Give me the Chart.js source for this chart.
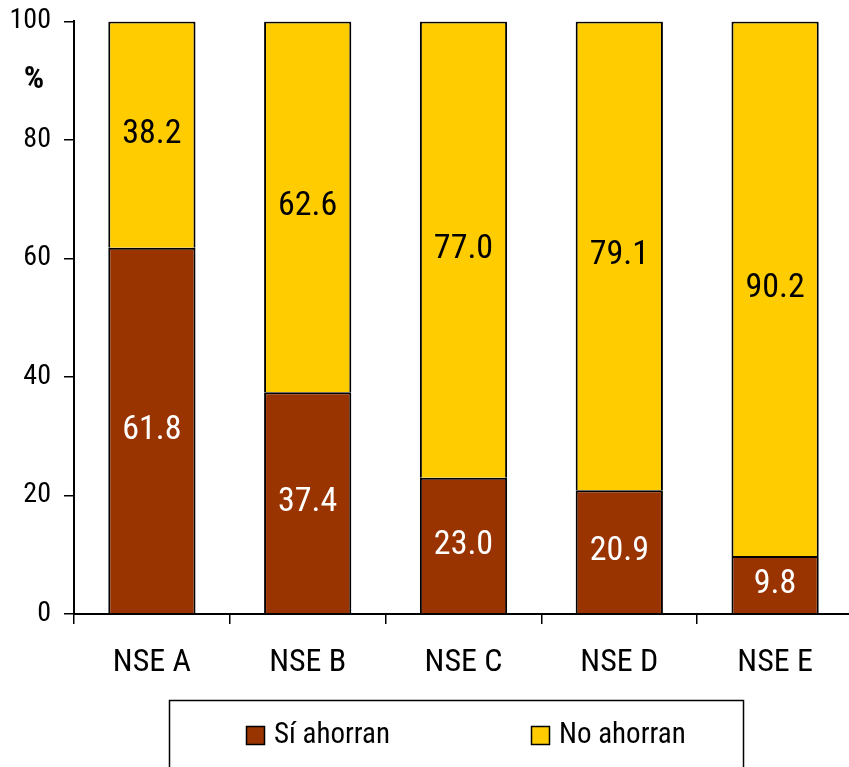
<!DOCTYPE html>
<html><head><meta charset="utf-8">
<script src="https://cdn.jsdelivr.net/npm/chart.js@4"></script>
<style>html,body{margin:0;padding:0;overflow:hidden;background:#fff}
#wrap{position:relative;width:853px;height:767px}</style></head>
<body><div id="wrap"><canvas id="c" width="853" height="767"></canvas></div>
<script>
const categories = ['NSE A', 'NSE B', 'NSE C', 'NSE D', 'NSE E'];
const siAhorran = [61.8, 37.4, 23.0, 20.9, 9.8];
const noAhorran = [38.2, 62.6, 77.0, 79.1, 90.2];
const seriesNames = ['Sí ahorran', 'No ahorran'];
const yTicks = [0, 20, 40, 60, 80, 100];
const yUnit = '%';

const FONT = "'Roboto Condensed', 'DejaVu Sans Condensed', sans-serif";
const BROWN = '#993300', YELLOW = '#FFCC00';
Chart.defaults.font.family = FONT;
Chart.defaults.color = '#000';

const extras = {
  id: 'extras',
  afterDatasetsDraw(chart) {
    const ctx = chart.ctx;
    ctx.save();
    ctx.font = '34px ' + FONT;
    ctx.textAlign = 'center';
    ctx.textBaseline = 'middle';
    chart.data.datasets.forEach((ds, i) => {
      const meta = chart.getDatasetMeta(i);
      meta.data.forEach((bar, j) => {
        const yc = (bar.y + bar.base) / 2;
        ctx.fillStyle = ds.labelColor;
        ctx.fillText(ds.data[j].toFixed(1), bar.x, yc);
      });
    });
    ctx.restore();
  },
  afterDraw(chart) {
    const ctx = chart.ctx;
    ctx.save();
    ctx.font = 'bold 32px ' + FONT;
    ctx.textAlign = 'center';
    ctx.textBaseline = 'middle';
    ctx.fillStyle = '#000';
    ctx.fillText(yUnit, 34, 80);
    ctx.lineWidth = 1.5;
    ctx.strokeStyle = '#000';
    ctx.strokeRect(169.5, 700.5, 574, 100);
    const pos = [246, 531];
    ctx.font = '29px ' + FONT;
    ctx.textAlign = 'left';
    chart.data.datasets.forEach((ds, i) => {
      ctx.fillStyle = ds.backgroundColor;
      ctx.fillRect(pos[i], 726, 18, 18);
      ctx.lineWidth = 1.5;
      ctx.strokeRect(pos[i] + 0.5, 726.5, 18, 18);
      ctx.fillStyle = '#000';
      ctx.fillText(ds.label, pos[i] + 28, 736);
    });
    ctx.restore();
  }
};

new Chart(document.getElementById('c'), {
  type: 'bar',
  data: {
    labels: categories,
    datasets: [
      { label: seriesNames[0], data: siAhorran, backgroundColor: BROWN, borderColor: '#000', borderWidth: 2, labelColor: '#fff' },
      { label: seriesNames[1], data: noAhorran, backgroundColor: YELLOW, borderColor: '#000', borderWidth: 2, labelColor: '#000' }
    ]
  },
  options: {
    responsive: false,
    animation: false,
    events: [],
    layout: { padding: { top: 21, left: 0, right: 0, bottom: 63 } },
    datasets: { bar: { categoryPercentage: 1, barPercentage: 0.56 } },
    plugins: { legend: { display: false }, tooltip: { enabled: false } },
    scales: {
      x: {
        stacked: true,
        grid: { drawOnChartArea: false, tickLength: 10, color: '#000', lineWidth: 1.5, offset: true },
        border: { display: true, color: '#000', width: 2 },
        ticks: { font: { size: 32 }, padding: 20, color: '#000' },
        afterFit(s) { s.height = 90; }
      },
      y: {
        stacked: true,
        min: 0, max: 100,
        afterBuildTicks(axis) { axis.ticks = yTicks.map(v => ({ value: v })); },
        grid: { drawOnChartArea: false, tickLength: 10, color: '#000', lineWidth: 1.5 },
        border: { display: true, color: '#000', width: 2 },
        ticks: { font: { size: 28, lineHeight: 0.6 }, padding: 13, color: '#000' },
        afterFit(s) { s.width = 74; }
      }
    }
  },
  plugins: [extras]
});
</script></body></html>
